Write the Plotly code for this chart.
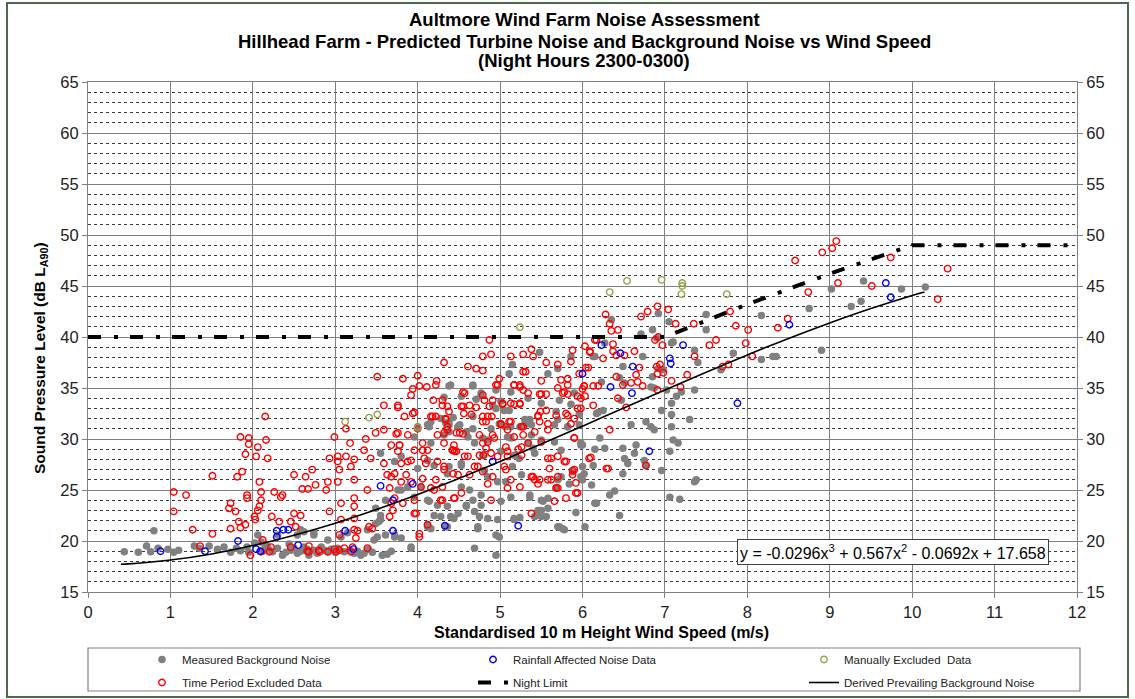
import plotly.graph_objects as go

# ---------------- data ----------------
measured_bg = [
    (0.44,18.95),(0.61,18.9),(0.71,19.5),(0.76,18.95),(0.80,21.0),(0.85,19.3),(0.97,19.2),(1.04,18.9),
    (1.10,19.1),(1.29,19.5),(1.35,19.3),(1.47,19.5),(1.57,19.2),(1.65,19.4),(1.73,18.9),(1.85,19.05),
    (1.93,19.4),(2.02,19.8),(2.06,20.6),(2.10,19.9),(2.18,19.4),(2.24,18.95),(2.30,19.3),(2.36,18.6),
    (2.46,19.1),(2.54,18.8),(2.62,19.4),(2.68,18.6),(2.74,19.1),(2.83,19.4),(2.91,18.95),(3.03,19.3),
    (3.11,18.95),(3.23,18.8),(3.31,18.6),(2.30,20.6),(2.54,20.6),(2.58,21.1),(2.74,20.8),(2.91,20.1),
    (3.07,20.4),(3.15,20.8),(3.47,20.1),(3.57,18.6),(3.51,20.4),(3.61,20.6),(3.72,20.4),(3.80,20.3),
    (3.92,19.4),(3.49,21.7),(3.55,22.1),(4.12,21.4),(4.28,22.4),(4.36,23.4),(4.49,22.7),(4.12,24.0),
    (4.04,25.3),(4.00,27.1),(4.12,27.9),(4.16,29.6),(3.96,30.2),(4.12,31.4),(4.28,32.0),(4.38,30.7),
    (3.55,28.6),(3.61,24.0),(3.76,25.0),
    (2.12,19.0),(2.20,19.1),(2.40,18.9),(2.50,19.3),(2.58,19.0),(2.66,19.2),(2.78,18.8),(2.87,19.1),
    (2.95,19.2),(3.00,18.9),(3.18,19.1),(3.27,19.0),(3.35,18.8),(2.15,19.6),(2.44,19.7),(1.95,18.9),
    (1.80,19.3),(3.40,19.2),(3.45,18.9),(3.63,18.7),(3.68,19.0),
    (4.34,31.6),(4.51,31.4),(4.67,31.0),(4.89,31.0),(4.99,31.5),(5.24,31.2),(5.82,31.2),(5.96,31.4),
    (4.61,30.2),(4.79,30.1),(5.13,30.1),(5.38,30.4),(5.66,29.7),(5.98,29.6),(4.79,28.4),(5.01,28.8),
    (5.17,28.4),(5.42,28.6),(5.74,28.9),(3.72,27.8),(3.80,28.3),(4.20,27.4),(4.38,27.3),(4.53,27.6),
    (4.85,26.3),(4.97,25.8),(5.26,26.5),(5.74,26.3),(6.11,25.5),(3.80,25.0),(3.88,25.3),(3.96,24.3),
    (4.14,23.9),(4.24,23.5),(4.59,23.5),(4.67,24.0),(4.77,24.5),(5.01,23.9),(5.13,24.3),(5.36,24.3),
    (5.52,23.9),(6.15,23.7),(3.49,23.2),(3.55,22.5),(4.20,22.5),(4.40,22.4),(4.69,22.9),(4.85,22.2),
    (5.17,22.2),(5.42,22.4),(5.50,23.0),(5.70,21.4),(5.78,21.1),(6.03,21.4),(3.53,21.9),(4.12,21.6),
    (4.16,21.2),(4.36,21.4),(4.73,21.4),(4.97,22.1),(2.62,20.9),(2.74,20.6),(3.39,21.1),(3.72,20.6),
    (3.92,19.3),(4.69,19.3),(4.95,18.6),
    (4.95,20.6),(4.99,20.4),(5.17,22.1),(5.24,22.3),(5.46,23.0),(5.50,22.4),(5.56,22.4),(5.72,21.4),
    (5.76,21.2),(5.92,22.8),(5.58,23.2),(6.45,22.5),(6.17,23.7),(6.33,24.5),(6.39,24.9),(7.06,24.3),
    (7.18,24.1),(7.36,25.8),(4.77,23.5),(4.75,22.4),(4.59,23.4),(4.44,22.2),(4.34,21.4),(4.73,21.2),
    (4.63,25.0),(4.53,25.3),(5.50,24.0),(5.58,24.2),(5.68,25.2),(5.70,26.0),(5.98,29.4),(5.90,34.5),
    (5.68,32.7),(5.70,31.9),(5.36,31.9),(5.30,31.4),(5.13,31.2),(5.05,32.8),(4.91,33.3),(5.13,34.6),
    (4.77,34.3),(4.67,35.3),(4.40,35.3),(4.49,31.2),(4.38,31.7),(4.32,30.4),(4.59,30.7),(4.69,29.6),
    (4.85,29.9),(5.09,30.2),(5.34,29.6),(5.40,29.1),(5.50,29.9),(5.23,28.1),(5.15,27.3),(5.07,25.8),
    (4.81,26.9),(4.36,26.6),(4.53,27.4),(5.36,24.5),(5.88,26.8),(5.98,26.3),(6.00,26.0),(5.84,25.6),
    (5.48,38.5),(5.58,36.4),(5.11,36.4),(5.15,37.3),(5.70,36.9),(5.86,38.1),(6.15,38.1),(4.38,35.2),
    (4.67,35.2),(4.32,34.1),(4.53,34.2),(4.77,34.5),(4.95,34.8),(4.71,33.9),(5.01,33.7),(5.11,32.8),
    (5.34,34.0),(5.50,33.5),(5.72,33.8),(5.86,33.4),(5.96,32.4),(6.19,32.6),(4.67,32.2),(4.43,32.1),
    (4.16,31.7),(4.14,31.2),(4.38,31.4),(4.49,31.2),(4.95,33.0),(5.07,31.2),(5.30,31.9),(5.38,31.4),
    (5.66,31.4),(5.82,31.2),(4.00,31.2),
    (6.71,40.3),(6.85,40.7),(6.90,39.9),(7.08,39.4),(7.36,38.7),(7.40,37.5),(7.83,38.4),(8.17,37.8),
    (8.31,38.1),(8.35,38.1),(8.90,38.7),(7.68,36.8),(7.50,40.7),(7.05,41.5),(6.27,39.4),(6.13,38.1),
    (6.49,37.1),(6.73,38.1),(6.85,36.1),(6.92,36.9),(6.98,36.8),(6.23,35.6),(6.45,36.0),(6.51,35.5),
    (6.83,35.1),(6.87,35.0),(7.02,34.8),(7.20,34.6),(7.14,34.2),(7.36,34.8),(7.08,33.5),(6.96,32.8),
    (7.08,32.4),(7.30,31.9),(6.17,32.5),(6.25,32.8),(6.47,33.8),(6.59,31.4),(6.77,31.7),(6.83,31.2),
    (6.87,30.9),(7.08,31.2),(7.10,29.9),(7.16,29.6),(6.21,30.1),(6.15,29.0),(6.27,29.1),(6.49,29.1),
    (6.65,29.4),(6.63,28.6),(6.51,28.1),(6.55,27.6),(6.49,26.6),(6.75,27.9),(6.77,27.4),(6.96,26.9),
    (7.06,28.8),(6.13,27.4),(6.00,29.4),(7.38,26.0),(6.00,27.3),(6.02,26.6),
    (6.35,41.7),(6.92,42.3),(7.10,39.5),(7.50,42.2),(8.17,42.1),(8.75,42.8),(9.02,44.7),(9.26,43.0),
    (9.38,43.5),(9.41,45.5),(9.87,44.7),(10.16,44.9),
]

time_excluded = [
    (1.04,24.8),(1.04,22.9),(1.19,24.5),(1.27,21.1),(1.51,20.7),(1.51,26.4),(1.36,19.5),(1.71,23.2),
    (1.73,23.7),(1.79,22.9),(1.81,26.3),(1.87,26.8),(1.85,30.2),(1.91,28.5),(1.93,24.5),(1.93,24.2),
    (1.83,21.9),(1.85,21.3),(1.91,21.6),(1.73,21.2),(1.95,30.1),(1.95,29.5),(2.04,28.3),(2.06,29.2),
    (2.02,22.4),(2.03,22.1),(2.06,23.0),(2.08,23.4),(2.10,24.0),(2.08,25.8),(2.10,24.8),(2.15,32.2),
    (2.16,29.9),(2.18,28.1),(2.23,22.4),(2.22,19.4),(2.12,20.1),(2.26,24.8),(2.34,24.3),(2.36,24.5),
    (2.32,21.9),(2.46,21.9),(2.50,22.7),(2.50,26.5),(2.52,21.4),(2.58,22.5),(2.60,25.1),(2.64,26.3),
    (2.67,25.1),(2.72,27.0),(2.76,25.5),(2.89,25.0),(2.93,28.1),(2.91,25.8),(2.93,22.9),(2.99,30.2),
    (3.03,28.3),(3.03,27.8),(3.05,27.0),(3.03,25.8),(3.07,23.7),(3.07,22.1),(3.05,20.6),(3.05,19.1),
    (3.01,18.95),(2.91,18.95),(2.81,18.95),(2.68,18.95),(2.46,19.4),(3.13,31.0),(3.13,28.3),(3.18,29.6),
    (3.19,27.3),(3.23,28.0),(3.23,26.0),(3.23,24.2),(3.23,23.4),(3.23,22.2),(3.23,21.1),(3.27,21.0),
    (3.25,20.3),(3.35,28.9),(3.37,30.0),(3.39,25.0),(3.41,21.4),(3.43,28.1),(3.49,30.6),(3.59,33.3),
    (3.66,25.2),(3.68,26.3),(3.68,23.7),(3.70,23.0),(3.74,30.5),(3.76,33.3),(3.76,28.8),(3.78,29.4),
    (3.80,27.6),(3.84,32.2),(3.86,26.5),(3.94,32.5),(3.96,24.0),(3.98,22.7),(4.02,20.7),(4.06,28.9),
    (4.06,26.1),(4.16,25.2),(4.18,32.2),(4.19,33.8),(4.22,26.0),(4.28,24.0),(4.30,33.3),(4.32,30.6),
    (4.34,32.0),(4.38,32.7),(4.44,24.2),(4.51,30.6),
    (1.97,18.6),(2.10,18.95),(2.20,18.95),(3.19,18.95),(2.66,19.0),(2.80,19.1),(2.99,19.2),(3.11,19.3),
    (3.21,19.4),(3.39,19.3),(2.68,19.5),
    (3.59,30.9),(3.76,30.6),(3.88,30.4),(4.00,31.0),(4.24,30.4),(4.36,31.2),(4.47,30.6),(4.79,31.7),
    (4.85,29.7),(4.91,30.4),(5.01,31.4),(5.09,30.9),(5.13,31.7),(5.26,31.2),(5.28,30.4),(5.42,30.7),
    (5.48,31.7),(5.58,30.9),(5.86,31.5),(5.90,30.1),(5.34,29.6),(5.50,29.7),(3.68,29.4),(3.78,29.4),
    (3.96,28.9),(4.06,29.6),(4.12,28.9),(4.32,29.6),(4.43,28.9),(4.47,28.8),(4.57,28.3),(4.83,29.1),
    (4.89,28.6),(4.97,28.3),(5.09,28.8),(5.22,29.0),(5.58,28.1),(5.80,27.8),(5.90,27.0),(3.59,27.6),
    (3.88,27.8),(3.92,27.9),(4.08,28.1),(4.10,27.6),(4.24,27.8),(4.32,27.0),(4.43,26.6),(4.49,26.5),
    (4.63,26.5),(4.73,27.3),(4.79,26.8),(4.91,26.3),(5.05,27.3),(5.38,26.3),(5.42,26.0),(5.58,26.0),
    (5.60,27.1),(5.88,26.5),(5.92,25.7),(3.63,26.5),(3.72,26.6),(3.80,25.8),(3.92,25.8),(4.04,25.3),
    (4.20,25.0),(4.30,25.3),(4.53,24.7),(4.89,24.0),(5.09,25.2),(5.70,25.2),(5.66,23.9),(5.80,24.2),
    (5.94,24.7),(3.72,24.2),(3.82,23.7),(3.96,22.7),(4.12,21.6),(4.30,24.0),(4.45,24.2),(5.38,22.7),
    (4.02,20.4),(3.66,22.4),(3.45,21.2),
    (4.53,33.2),(4.57,34.5),(4.79,34.3),(4.91,33.8),(4.95,35.3),(5.17,35.3),(5.24,35.3),(5.50,34.4),
    (5.70,35.0),(5.76,34.5),(5.82,35.3),(5.94,34.2),(6.13,33.3),(5.80,32.5),(5.03,33.5),(5.13,33.5),
    (5.24,33.5),(4.65,32.4),(4.85,32.2),(5.01,31.5),(5.11,31.7),(5.46,32.3),(5.56,32.8),(5.58,31.5),
    (4.36,33.2),(4.36,30.9),(4.55,30.5),(4.75,30.4),(4.93,30.1),(5.17,30.2),(4.44,29.4),(4.79,29.6),
    (5.07,29.2),(5.26,29.2),(5.90,30.1),(4.42,28.9),(4.45,28.8),(4.61,28.3),(4.75,28.4),(4.80,28.4),
    (5.09,28.3),(5.26,28.4),(5.62,28.1),(5.70,28.3),(5.78,27.8),(4.32,27.3),(4.69,27.3),(5.07,27.0),
    (5.40,26.3),(5.48,26.0),(5.62,26.0),(5.70,26.3),(5.88,26.9),(5.13,26.0),(4.85,25.6),(5.24,25.3),
    (5.46,25.6),(5.68,25.2),(5.92,24.7),(6.08,28.1),(6.29,27.1),(6.77,27.4),(6.33,30.9),(7.19,35.1),
    (6.91,34.8),(6.73,35.2),(6.49,35.3),(6.19,35.2),(6.13,35.2),(6.02,35.2),
    (4.87,39.7),(4.79,38.1),(4.89,38.3),(4.32,37.5),(4.61,37.1),(4.71,36.9),(4.79,36.7),(3.51,36.1),
    (3.82,35.9),(4.00,36.2),(4.02,35.2),(4.11,35.1),(4.23,35.7),(4.22,35.3),(3.94,34.9),(3.92,34.3),
    (4.99,35.9),(4.97,35.3),(4.55,34.6),(4.81,33.8),(4.30,33.8),(4.55,33.2),(4.63,33.3),(4.71,33.1),
    (4.87,33.2),(5.03,33.4),(5.17,33.4),(5.24,33.4),(3.76,33.1),(3.96,32.6),(4.16,32.2),(4.22,32.2),
    (4.56,32.5),(4.79,32.2),(4.90,32.2),(4.34,31.9),(4.83,31.7),(5.28,31.2),(5.46,32.2),(5.49,32.7),
    (5.68,32.3),(5.82,32.3),(5.90,32.0),(5.94,33.0),(6.00,34.9),(6.03,34.2),(5.78,34.6),(5.82,34.4),
    (5.74,35.8),(5.82,35.9),(5.70,37.3),(5.56,37.5),(5.50,35.7),(5.28,36.6),(5.31,36.6),(5.17,35.3),
    (5.24,35.1),(5.28,34.8),(5.34,34.5),(5.48,34.4),(5.56,34.4),(5.13,38.1),(5.28,38.3),(5.38,38.8),
    (5.40,38.1),(5.88,38.7),(5.86,37.6),(5.96,36.4),(6.03,39.1),(6.09,38.5),(6.07,37.0),(6.15,39.7),
    (6.02,35.2),
    (6.33,41.3),(6.35,40.6),(6.43,40.7),(6.17,39.7),(6.09,38.6),(6.25,37.9),(6.37,39.3),(6.37,38.6),
    (6.41,38.2),(6.51,38.2),(6.63,38.6),(6.04,37.0),(6.69,37.0),(6.65,36.3),(6.67,35.6),(6.59,35.5),
    (6.41,36.1),(6.90,37.1),(6.94,37.3),(6.91,36.4),(6.98,36.5),(7.08,35.7),(6.88,39.7),(6.92,40.0),
    (6.97,39.2),(7.13,41.3),(7.35,41.3),(7.54,39.2),(7.62,39.7),(7.36,38.1),(7.27,36.3),(7.86,41.1),
    (8.01,40.7),(7.98,39.4),(8.06,38.1),(7.70,37.1),(7.77,37.3),(8.37,40.9),(5.98,34.0),(6.43,34.0),
    (6.53,33.1),(6.10,28.2),(6.31,27.1),(5.98,33.0),
    (8.58,47.5),(8.91,48.3),(9.03,48.7),(9.08,49.4),(9.74,47.8),(9.10,45.3),(9.51,45.0),(8.74,44.4),
    (8.49,41.8),(10.43,46.7),(10.31,43.7),(7.79,42.5),(7.04,42.7),(6.91,43.0),(6.79,42.5),(6.71,42.0),
    (6.28,42.2),
]

rainfall = [
    (0.88,19.0),(1.42,19.0),(1.82,20.0),(2.04,19.2),(2.09,19.0),(2.29,21.0),(2.29,20.4),(2.37,21.1),
    (2.43,21.1),(2.55,19.6),(3.22,19.2),(3.12,21.0),(3.70,21.0),(3.55,25.4),(3.70,24.0),(3.94,25.6),
    (4.33,21.5),(4.91,27.8),(5.22,21.5),(6.34,35.1),(6.60,34.5),(6.81,28.8),(7.88,33.5),(6.23,39.2),
    (6.46,38.4),(6.61,37.1),(7.06,37.9),(7.07,37.4),(7.22,39.2),(8.51,41.2),(6.00,36.4),(9.68,45.3),
    (9.74,43.9),
]

manually_excluded = [
    (5.24,40.95),(3.12,31.7),(3.41,32.1),(3.51,32.4),(4.00,31.1),(6.54,45.5),(6.96,45.6),(7.21,45.3),
    (7.21,45.0),(7.20,44.2),(6.33,44.4),(7.75,44.2),
]

night_limit_speed = [0, 1, 2, 3, 4, 5, 6, 7, 8, 9, 10, 11, 12]
night_limit_level = [40, 40, 40, 40, 40, 40, 40, 40, 43.2, 46.2, 49, 49, 49]

prevailing_speed = [0.4, 0.5, 1, 1.5, 2, 2.5, 3, 3.5, 4, 4.5, 5, 5.5, 6, 6.5, 7, 7.5, 8, 8.5, 9, 9.5, 10, 10.15]
prevailing_level = [17.72, 17.76, 18.13, 18.73, 19.55, 20.57, 21.75, 23.09, 24.56, 26.13, 27.79, 29.50,
                    31.26, 33.04, 34.80, 36.54, 38.24, 39.86, 41.38, 42.79, 44.07, 44.42]

title_lines = [
    "Aultmore Wind Farm Noise Assessment",
    "Hillhead Farm - Predicted Turbine Noise and Background Noise vs Wind Speed",
    "(Night Hours 2300-0300)",
]
x_title = "Standardised 10 m Height Wind Speed (m/s)"
y_title = "Sound Pressure Level (dB L<sub>A90</sub>)"
equation_text = "y = -0.0296x<sup>3</sup> + 0.567x<sup>2</sup> - 0.0692x + 17.658"

# ---------------- figure ----------------
FONT = "Liberation Sans, Arial, sans-serif"
LEGFONT = "Liberation Sans Narrow, Liberation Sans, Arial, sans-serif"


def xs(pts):
    return [p[0] for p in pts]


def ys(pts):
    return [p[1] for p in pts]


fig = go.Figure()

fig.add_trace(go.Scatter(
    x=xs(measured_bg), y=ys(measured_bg), mode="markers", name="Measured Background Noise",
    marker=dict(symbol="circle", size=7.5, color="#808080"), legend="legend", legendrank=1))
fig.add_trace(go.Scatter(
    x=xs(time_excluded), y=ys(time_excluded), mode="markers", name="Time Period Excluded Data",
    marker=dict(symbol="circle-open", size=6.5, color="#ff0000", line=dict(width=1.4, color="#ff0000")),
    legend="legend2", legendrank=1))
fig.add_trace(go.Scatter(
    x=xs(rainfall), y=ys(rainfall), mode="markers", name="Rainfall Affected Noise Data",
    marker=dict(symbol="circle-open", size=6.5, color="#0000ff", line=dict(width=1.4, color="#0000ff")),
    legend="legend", legendrank=2))
fig.add_trace(go.Scatter(
    x=xs(manually_excluded), y=ys(manually_excluded), mode="markers", name="Manually Excluded  Data",
    marker=dict(symbol="circle-open", size=6.5, color="#98a04e", line=dict(width=1.4, color="#98a04e")),
    legend="legend", legendrank=3))
fig.add_trace(go.Scatter(
    x=night_limit_speed, y=night_limit_level, mode="lines", name="Night Limit",
    line=dict(color="black", width=4, dash="13px,13px,4px,12px"), legend="legend2", legendrank=2))
fig.add_trace(go.Scatter(
    x=prevailing_speed, y=prevailing_level, mode="lines", name="Derived Prevailing Background Noise",
    line=dict(color="black", width=1.6, shape="spline"), legend="legend2", legendrank=3))
# right-hand axis companion
fig.add_trace(go.Scatter(x=[None], y=[None], yaxis="y2", showlegend=False, hoverinfo="skip"))

axis_common = dict(
    showline=True, linecolor="#808080", linewidth=1, ticks="outside", ticklen=5,
    tickcolor="#808080", tickfont=dict(family=FONT, size=16.5, color="#222222"), zeroline=False)

legend_common = dict(orientation="h", x=0.0546, xanchor="left", yanchor="top",
                     entrywidth=286, entrywidthmode="pixels",
                     font=dict(family=LEGFONT, size=11.5, color="#222222"),
                     bgcolor="rgba(0,0,0,0)", borderwidth=0, traceorder="normal")

# plot area: x 88..1077 px, y 82..592 px
def py(pix):
    return (592 - pix) / 510.0

def px(pix):
    return (pix - 88) / 989.0

annotations = []
for line_text, ypix in zip(title_lines, [20, 41, 61]):
    annotations.append(dict(text="<b>" + line_text + "</b>", x=px(584), y=py(ypix), xref="paper", yref="paper",
                            xanchor="center", yanchor="middle", showarrow=False,
                            font=dict(family=FONT, size=18.5, color="black")))
annotations += [
    dict(text="<b>" + x_title + "</b>", x=px(601), y=py(632), xref="paper", yref="paper",
         xanchor="center", yanchor="middle", showarrow=False, font=dict(family=FONT, size=16, color="black")),
    dict(text="<b>" + y_title + "</b>", x=px(40), y=py(358), xref="paper", yref="paper",
         xanchor="center", yanchor="middle", showarrow=False, textangle=-90,
         font=dict(family=FONT, size=15.5, color="black")),
    dict(text=equation_text, x=px(893), y=py(552), xref="paper", yref="paper",
         xanchor="center", yanchor="middle", showarrow=False,
         font=dict(family=FONT, size=16, color="black"), bgcolor="white",
         bordercolor="#404040", borderwidth=1, borderpad=2),
]

fig.update_layout(
    width=1135, height=699,
    margin=dict(l=88, r=58, t=82, b=107, autoexpand=False),
    paper_bgcolor="white", plot_bgcolor="white",
    font=dict(family=FONT, color="black"),
    xaxis=dict(range=[0, 12], dtick=1, showgrid=True, gridcolor="#808080", gridwidth=1.2,
               mirror=True, **axis_common),
    yaxis=dict(range=[15, 65], dtick=5, showgrid=True, gridcolor="#808080", gridwidth=1.2,
               mirror=True,
               minor=dict(dtick=1, showgrid=True, gridcolor="#3a3a3a", gridwidth=0.8, griddash="3px,3px"),
               **axis_common),
    yaxis2=dict(range=[15, 65], dtick=5, overlaying="y", side="right", showgrid=False, **axis_common),
    showlegend=True,
    legend=dict(y=py(645), **legend_common),
    legend2=dict(y=py(668), **legend_common),
    annotations=annotations,
    shapes=[
        dict(type="rect", xref="paper", yref="paper", x0=px(88), x1=px(1080), y0=py(691), y1=py(648),
             line=dict(color="#808080", width=1.2), fillcolor="rgba(0,0,0,0)"),
        dict(type="rect", xref="paper", yref="paper", x0=px(7), x1=px(1128), y0=py(697), y1=py(3),
             line=dict(color="#4a6a4a", width=2), fillcolor="rgba(0,0,0,0)"),
    ],
)

fig.write_html("out.html")
